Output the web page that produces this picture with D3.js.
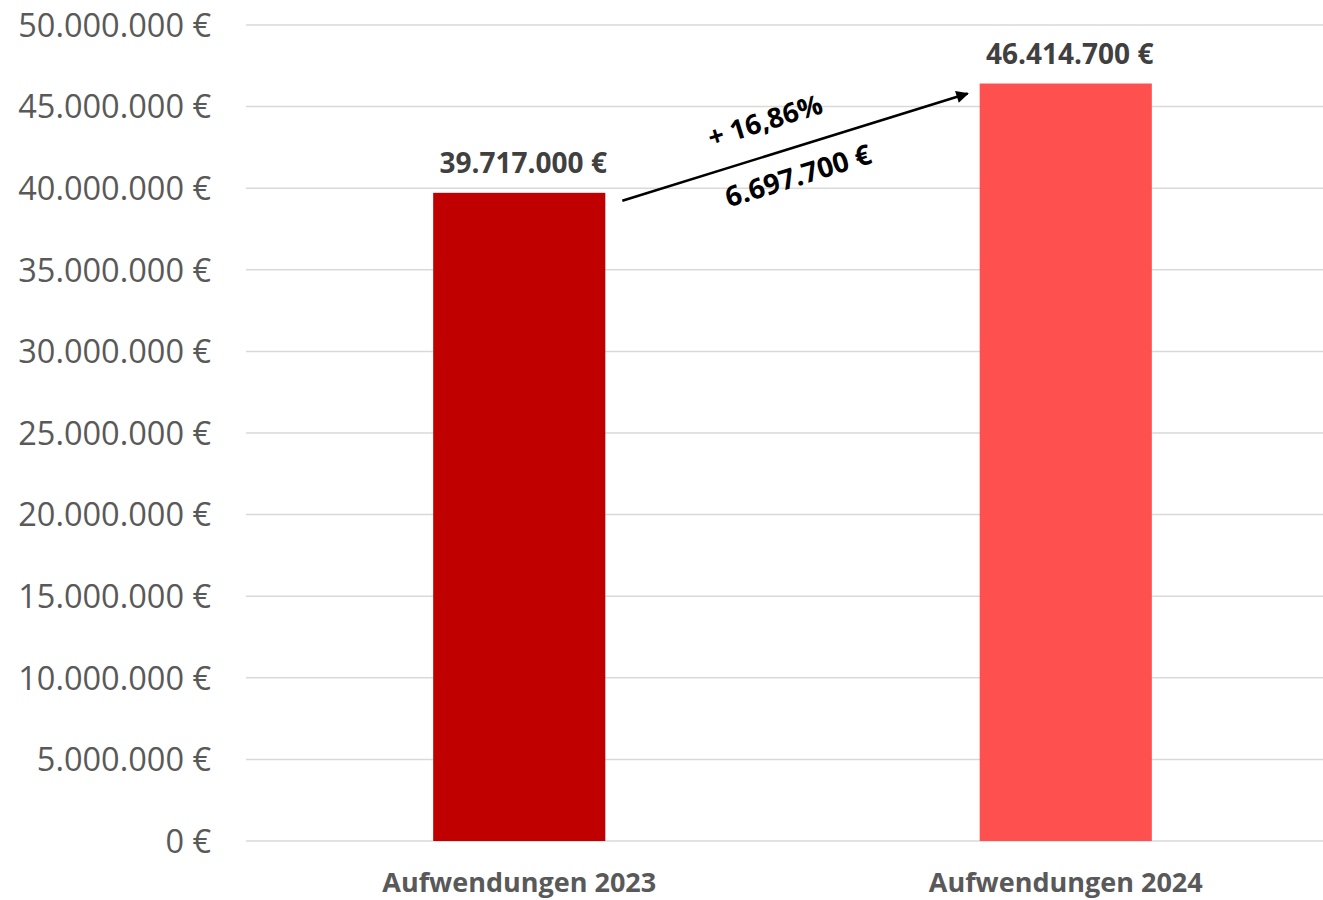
<!DOCTYPE html>
<html><head><meta charset="utf-8">
<script src="https://cdn.jsdelivr.net/npm/d3@7"></script>
<style>body{margin:0;background:#fff;} svg{display:block;}</style>
</head><body>
<svg id="c" width="1323" height="900"></svg>
<script>
const categories = ["Aufwendungen 2023", "Aufwendungen 2024"];
const values = [39717000, 46414700];
const barColors = ["#C00000", "#FF5050"];
const dataLabels = ["39.717.000 €", "46.414.700 €"];
const yTicks = [0, 5000000, 10000000, 15000000, 20000000, 25000000, 30000000, 35000000, 40000000, 45000000, 50000000];
const changePct = "+ 16,86%";
const changeAbs = "6.697.700 €";

(function () {
const svg = d3.select("#c");
const pLeft = 246, pRight = 1339, pTop = 25, pBottom = 841;
const font = "'Open Sans', sans-serif";

const x = d3.scaleBand().domain(categories).range([pLeft, pRight]).padding(0);
const y = d3.scaleLinear().domain([0, 50000000]).range([pBottom, pTop]);
const barW = x.bandwidth() * 0.315;

const fmt = v => v === 0 ? "0 €" : d3.format(",")(v).replace(/,/g, ".") + " €";

svg.append("g").selectAll("line").data(yTicks).join("line")
  .attr("x1", pLeft).attr("x2", pRight)
  .attr("y1", d => y(d)).attr("y2", d => y(d))
  .attr("stroke", "#D9D9D9").attr("stroke-width", 1.5);

svg.append("g").selectAll("text").data(yTicks).join("text")
  .attr("x", 211).attr("y", d => y(d)).attr("dy", "0.36em")
  .attr("text-anchor", "end")
  .attr("font-family", font).attr("font-size", 32.5)
  .attr("fill", "#595959")
  .text(fmt);

svg.append("g").selectAll("rect").data(values).join("rect")
  .attr("x", (d, i) => x(categories[i]) + x.bandwidth() / 2 - barW / 2)
  .attr("width", barW)
  .attr("y", d => y(d))
  .attr("height", d => y(0) - y(d))
  .attr("fill", (d, i) => barColors[i]);

svg.append("g").selectAll("text").data(values).join("text")
  .attr("x", (d, i) => x(categories[i]) + x.bandwidth() / 2 + 4)
  .attr("y", d => y(d) - 20)
  .attr("text-anchor", "middle")
  .attr("font-family", font).attr("font-weight", "bold").attr("font-size", 28)
  .attr("fill", "#404040")
  .text((d, i) => dataLabels[i]);

svg.append("g").selectAll("text").data(categories).join("text")
  .attr("x", d => x(d) + x.bandwidth() / 2)
  .attr("y", 892)
  .attr("text-anchor", "middle")
  .attr("font-family", font).attr("font-weight", "bold").attr("font-size", 27)
  .attr("fill", "#595959")
  .text(d => d);

const defs = svg.append("defs");
defs.append("marker").attr("id", "ah").attr("viewBox", "0 0 10 10")
  .attr("refX", 9).attr("refY", 5).attr("markerWidth", 7).attr("markerHeight", 5)
  .attr("markerUnits", "strokeWidth").attr("orient", "auto")
  .append("path").attr("d", "M0,0 L10,5 L0,10 Z").attr("fill", "#000");

const x1 = x(categories[0]) + x.bandwidth() / 2 + barW / 2 + 17;
const y1 = y(values[0]) + 8;
const x2 = x(categories[1]) + x.bandwidth() / 2 - barW / 2 - 12;
const y2 = y(values[1]) + 10;
svg.append("line").attr("x1", x1).attr("y1", y1).attr("x2", x2).attr("y2", y2)
  .attr("stroke", "#000").attr("stroke-width", 2.5).attr("marker-end", "url(#ah)");

const ang = Math.atan2(y2 - y1, x2 - x1) * 180 / Math.PI;
const mx = (x1 + x2) / 2, my = (y1 + y2) / 2;
svg.append("text").attr("transform", `translate(${mx - 27},${my - 17}) rotate(${ang})`)
  .attr("text-anchor", "middle")
  .attr("font-family", font).attr("font-weight", "bold").attr("font-size", 27.5)
  .attr("fill", "#000").text(changePct);
svg.append("text").attr("transform", `translate(${mx + 6},${my + 38}) rotate(${ang})`)
  .attr("text-anchor", "middle")
  .attr("font-family", font).attr("font-weight", "bold").attr("font-size", 28)
  .attr("fill", "#000").text(changeAbs);
})();
</script>
</body></html>
